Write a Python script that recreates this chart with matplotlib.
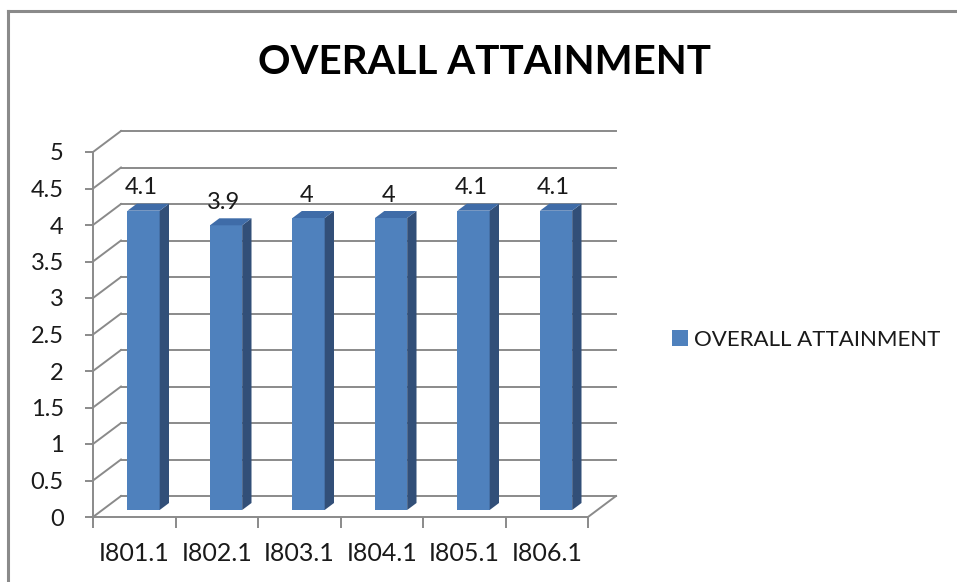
import numpy as np
import matplotlib.pyplot as plt
from matplotlib.patches import Polygon
from matplotlib.lines import Line2D

plt.rcParams['font.family'] = ['Lato', 'DejaVu Sans']

categories = ["I801.1", "I802.1", "I803.1", "I804.1", "I805.1", "I806.1"]
values = [4.1, 3.9, 4.0, 4.0, 4.1, 4.1]
value_labels = ["4.1", "3.9", "4", "4", "4.1", "4.1"]
series_name = "OVERALL ATTAINMENT"
y_ticks = [0, 0.5, 1, 1.5, 2, 2.5, 3, 3.5, 4, 4.5, 5]
y_tick_labels = ["0", "0.5", "1", "1.5", "2", "2.5", "3", "3.5", "4", "4.5", "5"]

FRONT = "#4F81BD"
SIDE = "#324F78"
TOP = "#3F6CA8"
GRID = "#8A8A8A"
TXT = "#1a1a1a"

W, H = 957, 582
fig = plt.figure(figsize=(W / 100, H / 100), dpi=100)
fig.patch.set_facecolor("white")

# front plane of the 3d box, in pixels
left_px, right_px, bot_px, top_px = 93, 588, 517, 152
ax = fig.add_axes([left_px / W, (H - bot_px) / H,
                   (right_px - left_px) / W, (bot_px - top_px) / H])
n = len(categories)
ax.set_xlim(0, n)
ax.set_ylim(0, 5)
ax.patch.set_alpha(0)

# depth offset of the back wall in data units
DX = 28 / ((right_px - left_px) / n)
DY = 21 / ((bot_px - top_px) / 5)

# back wall gridlines and side wall diagonals
for y in y_ticks:
    ax.plot([DX, n + DX], [y + DY, y + DY], color=GRID, lw=1.4, clip_on=False, zorder=1)
    ax.plot([0, DX], [y, y + DY], color=GRID, lw=1.4, clip_on=False, zorder=1)
# floor right edge
ax.plot([n, n + DX], [0, DY], color=GRID, lw=1.4, clip_on=False, zorder=1)

# bars
bw = 0.39
d0, d1 = 1 / 3, 2 / 3
xc = np.arange(n) + 0.5
bars = ax.bar(xc + d0 * DX, values, width=bw, bottom=d0 * DY, color=FRONT,
              zorder=3, clip_on=False, label=series_name)
for x, v, lab in zip(xc, values, value_labels):
    xl = x - bw / 2 + d0 * DX
    xr = x + bw / 2 + d0 * DX
    yb = d0 * DY
    yt = v + d0 * DY
    ddx = (d1 - d0) * DX
    ddy = (d1 - d0) * DY
    ax.add_patch(Polygon([(xr, yb), (xr + ddx, yb + ddy), (xr + ddx, yt + ddy), (xr, yt)],
                         closed=True, facecolor=SIDE, edgecolor="none", zorder=3, clip_on=False))
    ax.add_patch(Polygon([(xl, yt), (xr, yt), (xr + ddx, yt + ddy), (xl + ddx, yt + ddy)],
                         closed=True, facecolor=TOP, edgecolor="none", zorder=3, clip_on=False))
    ax.annotate(lab, (x + d0 * DX - 0.03, yt), xytext=(0, 23), textcoords="offset pixels",
                ha="center", va="center", fontsize=17, color=TXT, zorder=4)

# axes
for s in ["top", "right"]:
    ax.spines[s].set_visible(False)
for s in ["left", "bottom"]:
    ax.spines[s].set_color(GRID)
    ax.spines[s].set_linewidth(1.4)
ax.set_yticks(y_ticks)
ax.set_yticklabels(y_tick_labels)
ax.tick_params(axis="y", direction="out", length=6, width=1.4, color=GRID,
               pad=15, labelsize=17, labelcolor=TXT)
ax.set_xticks(np.arange(n + 1))
ax.set_xticklabels([])
ax.set_xticks(xc, minor=True)
ax.set_xticklabels(categories, minor=True)
ax.tick_params(axis="x", which="major", direction="out", length=8, width=1.4, color=GRID)
ax.tick_params(axis="x", which="minor", length=0, pad=18, labelsize=18, labelcolor=TXT)

fig.text(485 / W, 1 - 63 / H, "OVERALL ATTAINMENT", ha="center", va="center",
         fontsize=29, fontweight="bold", color="black")

ax.legend(handles=[bars], loc="center left", bbox_to_anchor=(652 / W, 1 - 340 / H),
          bbox_transform=fig.transFigure, frameon=False, fontsize=16,
          handlelength=0.7, handleheight=0.7, handletextpad=0.3, labelcolor=TXT)

# chart border
fig.add_artist(Line2D([8 / W, 8 / W], [0, 1 - 11 / H], color=GRID, lw=2.2))
fig.add_artist(Line2D([8 / W, 1], [1 - 11 / H, 1 - 11 / H], color=GRID, lw=2.2))

fig.savefig("out.png", dpi=100)
